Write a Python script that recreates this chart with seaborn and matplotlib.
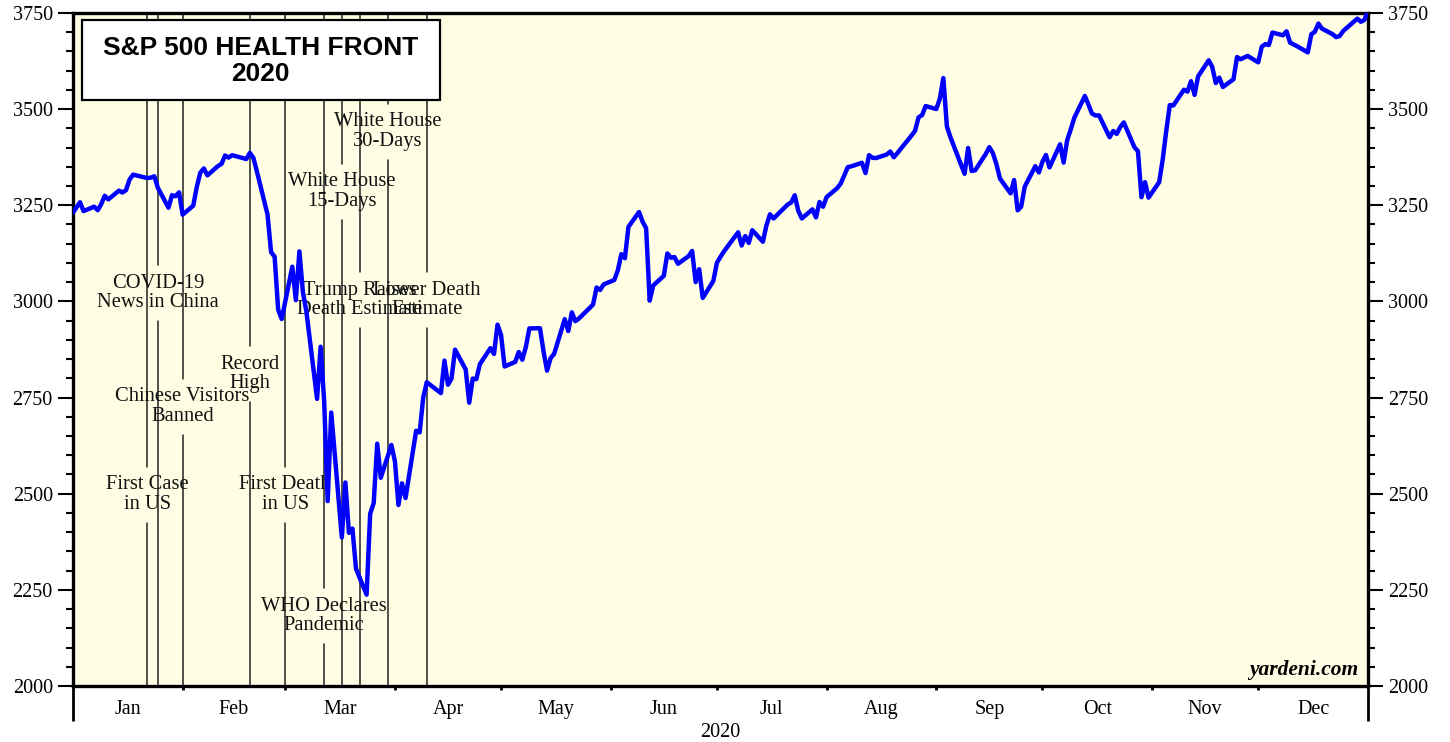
import numpy as np
import pandas as pd
import matplotlib
matplotlib.use("Agg")
import matplotlib.pyplot as plt
import matplotlib.dates as mdates
from matplotlib.patches import Rectangle
import seaborn as sns

# S&P 500 daily closes, 2020 (first value is the 2019 year-end close)
prior_close = 3230.78
jan_close = [3257.85, 3234.85, 3246.28, 3237.18, 3253.05, 3274.70, 3265.35, 3288.13, 3283.15, 3289.29,
             3316.81, 3329.62, 3320.79, 3321.75, 3325.54, 3295.47, 3243.63, 3276.24, 3273.40, 3283.66, 3225.52]
feb_close = [3248.92, 3297.59, 3334.69, 3345.78, 3327.71, 3352.09, 3357.75, 3379.45, 3373.94, 3380.16,
             3370.29, 3386.15, 3373.23, 3337.75, 3225.89, 3128.21, 3116.39, 2978.76, 2954.22]
mar_close = [3090.23, 3003.37, 3130.12, 3023.94, 2972.37, 2746.56, 2882.23, 2741.38, 2480.64, 2711.02,
             2386.13, 2529.19, 2398.10, 2409.39, 2304.92, 2237.40, 2447.33, 2475.56, 2630.07, 2541.47,
             2626.65, 2584.59]
apr_close = [2470.50, 2526.90, 2488.65, 2663.68, 2659.41, 2749.98, 2789.82, 2761.63, 2846.06, 2783.36,
             2799.55, 2874.56, 2823.16, 2736.56, 2799.31, 2797.80, 2836.74, 2878.48, 2863.39, 2939.51, 2912.43]
may_close = [2830.71, 2842.74, 2868.44, 2848.42, 2881.19, 2929.80, 2930.32, 2870.12, 2820.00, 2852.50,
             2863.70, 2953.91, 2922.94, 2971.61, 2948.51, 2955.45, 2991.77, 3036.13, 3029.73, 3044.31]
jun_close = [3055.73, 3080.82, 3122.87, 3112.35, 3193.93, 3232.39, 3207.18, 3190.14, 3002.10, 3041.31,
             3066.59, 3124.74, 3113.49, 3115.34, 3097.74, 3117.86, 3131.29, 3050.33, 3083.76, 3009.05,
             3053.24, 3100.29]
jul_close = [3115.86, 3130.01, 3179.72, 3145.32, 3169.94, 3152.05, 3185.04, 3155.22, 3197.52, 3226.56,
             3215.57, 3224.73, 3251.84, 3257.30, 3276.02, 3235.66, 3215.63, 3239.41, 3218.44, 3258.44,
             3246.22, 3271.12]
aug_close = [3294.61, 3306.51, 3327.77, 3349.16, 3351.28, 3360.47, 3333.69, 3380.35, 3373.43, 3372.85,
             3381.99, 3389.78, 3374.85, 3385.51, 3397.16, 3431.28, 3443.62, 3478.73, 3484.55, 3508.01, 3500.31]
sep_close = [3526.65, 3580.84, 3455.06, 3426.96, 3331.84, 3398.96, 3339.19, 3340.97, 3383.54, 3401.20,
             3385.49, 3357.01, 3319.47, 3281.06, 3315.57, 3236.92, 3246.59, 3298.46, 3351.60, 3335.47, 3363.00]
oct_close = [3380.80, 3348.42, 3408.60, 3360.97, 3419.44, 3446.83, 3477.14, 3534.22, 3511.93, 3488.67,
             3483.34, 3483.81, 3426.92, 3443.12, 3435.56, 3453.49, 3465.39, 3400.97, 3390.68, 3271.03,
             3310.11, 3269.96]
nov_close = [3310.24, 3369.16, 3443.44, 3510.45, 3509.44, 3550.50, 3545.53, 3572.66, 3537.01, 3585.15,
             3626.91, 3609.53, 3567.79, 3581.87, 3557.54, 3577.59, 3635.41, 3629.65, 3638.35, 3621.63]
dec_close = [3662.45, 3669.01, 3666.72, 3699.12, 3691.96, 3702.25, 3672.82, 3668.10, 3663.46, 3647.49,
             3694.62, 3701.17, 3722.48, 3709.41, 3694.92, 3687.26, 3690.01, 3703.06, 3735.36, 3727.04,
             3732.04, 3756.07]

# NYSE holidays in 2020
market_holidays = ["2020-01-01", "2020-01-20", "2020-02-17", "2020-04-10", "2020-05-25",
                   "2020-07-03", "2020-09-07", "2020-11-26", "2020-12-25"]

# Pandemic milestones: date, label, vertical position of the label
event_dates = ["2020-01-21", "2020-01-24", "2020-01-31", "2020-02-19", "2020-02-29",
               "2020-03-11", "2020-03-16", "2020-03-21", "2020-03-29", "2020-04-09"]
event_labels = ["First Case\nin US", "COVID-19\nNews in China", "Chinese Visitors\nBanned",
                "Record\nHigh", "First Death\nin US", "WHO Declares\nPandemic",
                "White House\n15-Days", "Trump Raises\nDeath Estimate", "White House\n30-Days",
                "Lower Death\nEstimate"]
event_label_y = [2497, 3022, 2726, 2811, 2497, 2182, 3285, 3004, 3441, 3004]

month_names = ["Jan", "Feb", "Mar", "Apr", "May", "Jun", "Jul", "Aug", "Sep", "Oct", "Nov", "Dec"]
y_ticks = [2000, 2250, 2500, 2750, 3000, 3250, 3500, 3750]

# ---- assemble the series ----
trading_days = pd.bdate_range("2020-01-01", "2020-12-31")
trading_days = trading_days[~trading_days.isin(pd.to_datetime(market_holidays))]
closes = ([prior_close] + jan_close + feb_close + mar_close + apr_close + may_close + jun_close
          + jul_close + aug_close + sep_close + oct_close + nov_close + dec_close)
dates = [pd.Timestamp("2019-12-31")] + list(trading_days)
df = pd.DataFrame({"date": dates, "close": closes})

sns.set_style("ticks")
plt.rcParams["font.family"] = ["Liberation Serif", "DejaVu Serif"]
plt.rcParams.update({"text.color": "black", "axes.labelcolor": "black",
                     "xtick.color": "black", "ytick.color": "black"})

fig = plt.figure(figsize=(14.5, 7.42), dpi=100)
ax = fig.add_axes([0.0503, 0.0755, 0.8931, 0.9070])
ax.set_facecolor("#FFFEE4")

x_start = pd.Timestamp("2019-12-31")
x_end = pd.Timestamp("2020-12-31")
y_min, y_max = 2000, 3750

# event markers: thin vertical rules broken around their labels
gap = 0.0416
for d, lab, ly in zip(event_dates, event_labels, event_label_y):
    xd = pd.Timestamp(d)
    frac = (ly - y_min) / (y_max - y_min)
    ax.axvline(xd, ymin=0, ymax=max(frac - gap, 0), color="#222222", lw=1.1, zorder=1)
    ax.axvline(xd, ymin=min(frac + gap, 1), ymax=1, color="#222222", lw=1.1, zorder=1)
    ax.text(xd, ly, lab, ha="center", va="center", fontsize=14.8, linespacing=1.05,
            color="#111111", zorder=2)

sns.lineplot(data=df, x="date", y="close", ax=ax, color="#0000FF", lw=3.2, zorder=3)

ax.set_xlim(x_start, x_end)
ax.set_ylim(y_min, y_max)

# y axis on both sides
ax.set_yticks(y_ticks)
ax.set_yticklabels([str(v) for v in y_ticks])
ax.yaxis.set_minor_locator(matplotlib.ticker.MultipleLocator(50))
ax.tick_params(axis="y", which="major", direction="out", length=11, width=1.5,
               left=True, right=True, labelleft=True, labelright=True, labelsize=14.5, pad=3.5)
ax.tick_params(axis="y", which="minor", direction="out", length=5, width=1.5,
               left=True, right=True)

# x axis: month boundaries as ticks, month names centred between them
month_ends = [x_start] + [pd.Timestamp(2020, m, 1) - pd.Timedelta(days=1) for m in range(2, 13)] + [x_end]
ax.set_xticks(month_ends)
ax.set_xticklabels([""] * len(month_ends))
mids = [month_ends[i] + (month_ends[i + 1] - month_ends[i]) / 2 for i in range(12)]
ax.set_xticks(mids, minor=True)
ax.set_xticklabels(month_names, minor=True)
ax.tick_params(axis="x", which="major", direction="out", length=3, width=2)
ax.tick_params(axis="x", which="minor", length=0, pad=10, labelsize=14.5)
major_ticks = ax.xaxis.get_major_ticks()
for t in (major_ticks[0], major_ticks[-1]):
    t.tick1line.set_markersize(25)
    t.tick1line.set_markeredgewidth(2)

ax.set_xlabel("2020", fontsize=14.5, labelpad=3)
ax.set_ylabel("")

for side in ["left", "right", "top", "bottom"]:
    ax.spines[side].set_visible(True)
    ax.spines[side].set_linewidth(2.4)
    ax.spines[side].set_color("black")

# title panel
ax.add_patch(Rectangle((0.0070, 0.8707), 0.2764, 0.1189, transform=ax.transAxes,
                       facecolor="white", edgecolor="black", lw=1.6, zorder=5))
ax.text(0.145, 0.929, "S&P 500 HEALTH FRONT\n2020", transform=ax.transAxes,
        ha="center", va="center", fontsize=19, fontweight="bold", color="black",
        family=["Liberation Sans", "DejaVu Sans"], linespacing=1.1, zorder=6)

ax.text(0.9923, 0.024, "yardeni.com", transform=ax.transAxes, ha="right", va="center",
        fontsize=15.5, fontweight="bold", fontstyle="italic", color="black", zorder=6)

fig.savefig("out.png", dpi=100)
